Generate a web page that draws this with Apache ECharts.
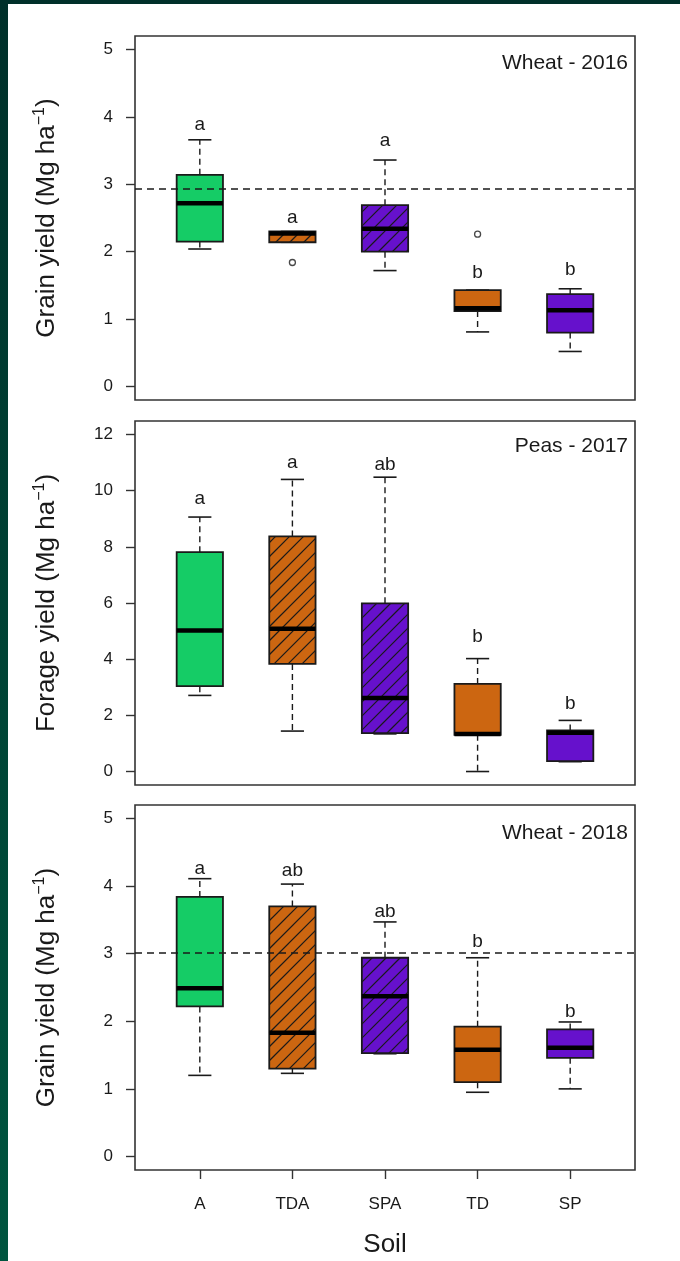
<!DOCTYPE html>
<html>
<head>
<meta charset="utf-8">
<script src="https://cdn.jsdelivr.net/npm/echarts@6.0.0/dist/echarts.min.js"></script>
<style>
html, body { margin: 0; padding: 0; background: #fff; }
#chart { width: 680px; height: 1261px; }
</style>
</head>
<body>
<div id="chart"></div>
<script>
// soils on the x axis
const soils = ['A', 'TDA', 'SPA', 'TD', 'SP'];

// Wheat - 2016 (grain yield)
const w16Low  = [2.04, 2.14, 1.72, 0.81, 0.52];
const w16Q1   = [2.15, 2.14, 2.00, 1.12, 0.80];
const w16Med  = [2.72, 2.27, 2.34, 1.16, 1.13];
const w16Q3   = [3.14, 2.30, 2.69, 1.43, 1.37];
const w16High = [3.66, 2.30, 3.36, 1.43, 1.45];
const w16Out  = [[2, 1.84], [4, 2.26]];
const w16Letters = ['a', 'a', 'a', 'b', 'b'];
const w16LetterY = [3.89, 2.50, 3.65, 1.69, 1.73];
const w16Ref = 2.93;

// Peas - 2017 (forage yield)
const p17Low  = [2.71, 1.44, 1.34, 0.00, 0.35];
const p17Q1   = [3.04, 3.83, 1.37, 1.31, 0.37];
const p17Med  = [5.02, 5.08, 2.62, 1.34, 1.38];
const p17Q3   = [7.81, 8.37, 5.99, 3.12, 1.46];
const p17High = [9.06, 10.40, 10.48, 4.02, 1.82];
const p17Letters = ['a', 'a', 'ab', 'b', 'b'];
const p17LetterY = [9.71, 10.98, 10.93, 4.78, 2.43];

// Wheat - 2018 (grain yield)
const w18Low  = [1.20, 1.23, 1.52, 0.95, 1.00];
const w18Q1   = [2.22, 1.30, 1.53, 1.10, 1.46];
const w18Med  = [2.49, 1.83, 2.37, 1.58, 1.61];
const w18Q3   = [3.84, 3.70, 2.94, 1.92, 1.88];
const w18High = [4.11, 4.03, 3.47, 2.94, 1.99];
const w18Letters = ['a', 'ab', 'ab', 'b', 'b'];
const w18LetterY = [4.26, 4.23, 3.62, 3.18, 2.14];
const w18Ref = 3.02;

const yTicks5 = [0, 1, 2, 3, 4, 5];
const yTicks12 = [0, 2, 4, 6, 8, 10, 12];
const xTicks = [1, 2, 3, 4, 5];

const fills = ['#15CC66', '#CC6611', '#6611CC', '#CC6611', '#6611CC'];
const hatched = [false, true, true, false, false];
const FONT = 'Liberation Sans, Arial, Helvetica, sans-serif';
const INK = '#1a1a1a';

function boxData(lo, q1, med, q3, hi) {
    return soils.map((s, i) => [i + 1, lo[i], q1[i], med[i], q3[i], hi[i]]);
}

function renderBox(params, api) {
    const x = api.value(0);
    const i = x - 1;
    const pLo = api.coord([x, api.value(1)]);
    const cx = pLo[0];
    const yLo = pLo[1];
    const yQ1 = api.coord([x, api.value(2)])[1];
    const yMed = api.coord([x, api.value(3)])[1];
    const yQ3 = api.coord([x, api.value(4)])[1];
    const yHi = api.coord([x, api.value(5)])[1];
    const half = api.size([0.5, 0])[0] / 2;
    const cap = api.size([0.25, 0])[0] / 2;
    const x0 = cx - half, x1 = cx + half;
    const dash = { stroke: INK, lineWidth: 1.4, lineDash: [6, 4] };
    const solid = { stroke: INK, lineWidth: 1.6 };
    const kids = [];
    kids.push({ type: 'line', shape: { x1: cx, y1: yQ3, x2: cx, y2: yHi }, style: dash });
    kids.push({ type: 'line', shape: { x1: cx, y1: yQ1, x2: cx, y2: yLo }, style: dash });
    kids.push({ type: 'line', shape: { x1: cx - cap, y1: yHi, x2: cx + cap, y2: yHi }, style: solid });
    kids.push({ type: 'line', shape: { x1: cx - cap, y1: yLo, x2: cx + cap, y2: yLo }, style: solid });
    kids.push({ type: 'rect', shape: { x: x0, y: yQ3, width: x1 - x0, height: yQ1 - yQ3 }, style: { fill: fills[i] } });
    if (hatched[i]) {
        // 45 degree lines, x + y = c
        const s = 14;
        for (let c = Math.ceil((x0 + yQ3) / s) * s; c <= x1 + yQ1; c += s) {
            const xa = Math.max(x0, c - yQ1);
            const xb = Math.min(x1, c - yQ3);
            if (xb > xa) {
                kids.push({ type: 'line', shape: { x1: xa, y1: c - xa, x2: xb, y2: c - xb }, style: { stroke: INK, lineWidth: 1.2 } });
            }
        }
    }
    kids.push({ type: 'rect', shape: { x: x0, y: yQ3, width: x1 - x0, height: yQ1 - yQ3 }, style: { fill: 'none', stroke: INK, lineWidth: 1.8 } });
    kids.push({ type: 'line', shape: { x1: x0, y1: yMed, x2: x1, y2: yMed }, style: { stroke: '#000', lineWidth: 4.5 } });
    return { type: 'group', children: kids };
}

function letterSeries(idx, letters, ys) {
    return {
        type: 'custom',
        xAxisIndex: idx,
        yAxisIndex: idx,
        silent: true,
        data: soils.map((s, i) => [i + 1, ys[i]]),
        renderItem: (params, api) => {
            const p = api.coord([api.value(0), api.value(1)]);
            return {
                type: 'text',
                x: p[0], y: p[1],
                style: { text: letters[params.dataIndex], fontSize: 19, fontFamily: FONT, fill: INK, align: 'center', verticalAlign: 'middle' }
            };
        }
    };
}

function refLine(idx, v) {
    return {
        type: 'line',
        xAxisIndex: idx,
        yAxisIndex: idx,
        data: [],
        markLine: {
            silent: true,
            symbol: 'none',
            label: { show: false },
            lineStyle: { type: [7, 5], color: '#1a1a1a', width: 1.5 },
            data: [{ yAxis: v }]
        }
    };
}

const grids = [
    { left: 135, top: 36, width: 500, height: 364 },
    { left: 135, top: 421, width: 500, height: 364 },
    { left: 135, top: 805, width: 500, height: 365 }
].map(g => Object.assign(g, { show: true, borderColor: '#333', borderWidth: 1.6, backgroundColor: 'transparent', outerBoundsMode: 'none' }));

function xAxis(idx, withLabels) {
    return {
        type: 'value',
        gridIndex: idx,
        min: 0.3,
        max: 5.7,
        splitLine: { show: false },
        axisLine: { show: false, onZero: false },
        axisTick: withLabels ? { show: true, customValues: xTicks, length: 9, inside: false, lineStyle: { color: '#333', width: 1.4 } } : { show: false },
        axisLabel: withLabels ? { show: true, customValues: xTicks, formatter: v => soils[v - 1], margin: 26, fontSize: 17, fontFamily: FONT, color: INK } : { show: false },
        name: withLabels ? 'Soil' : '',
        nameLocation: 'middle',
        nameGap: 62,
        nameTextStyle: { fontSize: 26, fontFamily: FONT, color: INK }
    };
}

function yAxis(idx, min, max, ticks, label) {
    return {
        type: 'value',
        gridIndex: idx,
        min: min,
        max: max,
        splitLine: { show: false },
        axisLine: { show: false, onZero: false },
        axisTick: { show: true, customValues: ticks, length: 9, inside: false, lineStyle: { color: '#333', width: 1.4 } },
        axisLabel: { show: true, customValues: ticks, margin: 22, fontSize: 17, fontFamily: FONT, color: INK },
        name: label + ' (Mg ha{sup|\u22121})',
        nameLocation: 'middle',
        nameRotate: 90,
        nameGap: 73,
        nameTextStyle: {
            fontSize: 26, fontFamily: FONT, color: INK,
            rich: { sup: { fontSize: 16, fontFamily: FONT, color: INK, verticalAlign: 'top', lineHeight: 30 } }
        }
    };
}

const titleStyle = { fontSize: 21, fontWeight: 'normal', fontFamily: FONT, color: INK };

const chart = echarts.init(document.getElementById('chart'), null, { renderer: 'canvas' });
chart.setOption({
    backgroundColor: '#fff',
    animation: false,
    graphic: [
        {
            type: 'rect', z: -10, silent: true,
            shape: { x: 0, y: 0, width: 680, height: 1261 },
            style: { fill: new echarts.graphic.LinearGradient(0, 0, 0, 1, [{ offset: 0, color: '#00302a' }, { offset: 1, color: '#00553f' }]) }
        },
        {
            type: 'rect', z: -9, silent: true,
            shape: { x: 8, y: 4, width: 672, height: 1257 },
            style: { fill: '#fff' }
        }
    ],
    title: [
        { text: 'Wheat - 2016', right: 52, top: 53, padding: 0, textStyle: titleStyle },
        { text: 'Peas - 2017', right: 52, top: 436, padding: 0, textStyle: titleStyle },
        { text: 'Wheat - 2018', right: 52, top: 823, padding: 0, textStyle: titleStyle }
    ],
    grid: grids,
    xAxis: [xAxis(0, false), xAxis(1, false), xAxis(2, true)],
    yAxis: [
        yAxis(0, -0.2, 5.2, yTicks5, 'Grain yield'),
        yAxis(1, -0.48, 12.48, yTicks12, 'Forage yield'),
        yAxis(2, -0.2, 5.2, yTicks5, 'Grain yield')
    ],
    series: [
        refLine(0, w16Ref),
        { type: 'custom', xAxisIndex: 0, yAxisIndex: 0, silent: true, renderItem: renderBox, data: boxData(w16Low, w16Q1, w16Med, w16Q3, w16High) },
        {
            type: 'scatter', xAxisIndex: 0, yAxisIndex: 0, silent: true, data: w16Out,
            symbol: 'circle', symbolSize: 6,
            itemStyle: { color: '#fff', borderColor: INK, borderWidth: 1.3 }
        },
        letterSeries(0, w16Letters, w16LetterY),

        { type: 'custom', xAxisIndex: 1, yAxisIndex: 1, silent: true, renderItem: renderBox, data: boxData(p17Low, p17Q1, p17Med, p17Q3, p17High) },
        letterSeries(1, p17Letters, p17LetterY),

        refLine(2, w18Ref),
        { type: 'custom', xAxisIndex: 2, yAxisIndex: 2, silent: true, renderItem: renderBox, data: boxData(w18Low, w18Q1, w18Med, w18Q3, w18High) },
        letterSeries(2, w18Letters, w18LetterY)
    ]
});
window.addEventListener('resize', () => chart.resize());
</script>
</body>
</html>
